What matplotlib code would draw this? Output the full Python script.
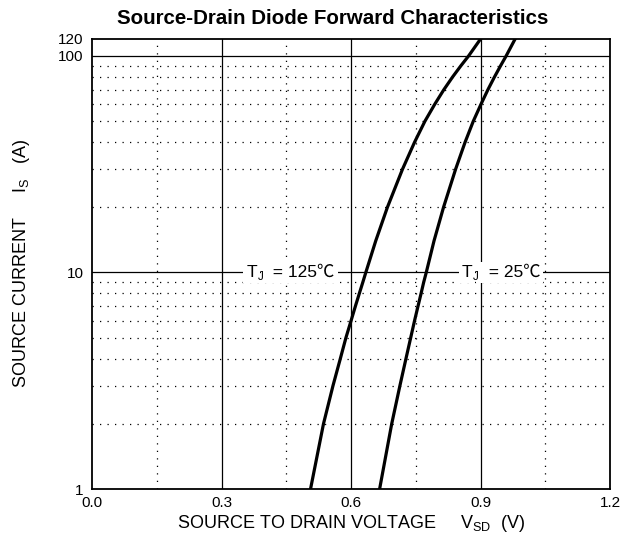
import matplotlib.pyplot as plt
from matplotlib.ticker import FixedLocator, NullFormatter

plt.rcParams['font.family'] = ['Liberation Sans', 'Noto Sans CJK SC', 'DejaVu Sans']

# Datos
i_s = [1, 2, 3, 4, 5, 6, 7, 8, 9, 10, 14, 20, 30, 40, 50, 60, 70, 80, 90, 100, 120]
v_125 = [0.506, 0.536, 0.558, 0.575, 0.588, 0.600, 0.610, 0.619, 0.627, 0.634,
         0.657, 0.684, 0.719, 0.747, 0.771, 0.794, 0.815, 0.835, 0.854, 0.872, 0.900]
v_25 = [0.666, 0.694, 0.713, 0.727, 0.738, 0.747, 0.755, 0.762, 0.768, 0.774,
        0.792, 0.814, 0.842, 0.864, 0.883, 0.901, 0.917, 0.932, 0.946, 0.959, 0.980]

x_ticks = [0.0, 0.3, 0.6, 0.9, 1.2]
x_minor = [0.15, 0.45, 0.75, 1.05]
y_ticks = [1, 10, 100, 120]
y_minor = [2, 3, 4, 5, 6, 7, 8, 9, 20, 30, 40, 50, 60, 70, 80, 90]

fig = plt.figure(figsize=(6.22, 5.47), dpi=100)
ax = fig.add_axes([0.148, 0.106, 0.833, 0.823])

ax.set_yscale('log')
ax.set_xlim(0, 1.2)
ax.set_ylim(1, 120)

# Rejilla
for x in x_ticks[1:-1]:
    ax.axvline(x, color='black', lw=0.9, zorder=1)
for x in x_minor:
    ax.axvline(x, color='black', lw=0.9, ls=(0, (1, 5)), zorder=1)
for y in [10, 100]:
    ax.axhline(y, color='black', lw=0.9, zorder=1)
for y in y_minor:
    ax.axhline(y, color='black', lw=0.9, ls=(0, (1, 5)), zorder=1)

# Curvas
ax.plot(v_125, i_s, color='black', lw=2.3, zorder=3)
ax.plot(v_25, i_s, color='black', lw=2.3, zorder=3)


def etiqueta(x, temp):
    box = dict(facecolor='white', edgecolor='none', pad=2)
    t = ax.text(x, 10, 'T', fontsize=12.5, ha='left', va='center', bbox=box, zorder=2)
    j = ax.annotate('J', xy=(1, 0), xycoords=t, xytext=(0.5, -2.5),
                    textcoords='offset points', fontsize=8.5, ha='left',
                    va='bottom', zorder=2.6)
    ax.annotate(f'  = {temp}℃', xy=(1, 0), xycoords=(j, t), fontsize=12.5,
                ha='left', va='bottom', bbox=box, zorder=2)


etiqueta(0.357, 125)
etiqueta(0.856, 25)

ax.xaxis.set_major_locator(FixedLocator(x_ticks))
ax.set_xticklabels(['0.0', '0.3', '0.6', '0.9', '1.2'])
ax.yaxis.set_major_locator(FixedLocator(y_ticks))
ax.yaxis.set_minor_locator(FixedLocator([]))
ax.yaxis.set_minor_formatter(NullFormatter())
ax.set_yticklabels(['1', '10', '100', '120'])
ax.tick_params(length=0, labelsize=11)
ax.tick_params(axis='x', pad=5)
ax.tick_params(axis='y', pad=6)

for s in ax.spines.values():
    s.set_linewidth(1.3)

fig.text(0.535, 0.967, 'Source-Drain Diode Forward Characteristics',
         fontsize=14.8, fontweight='bold', ha='center', va='center')
ax.set_xlabel('SOURCE TO DRAIN VOLTAGE     V$_\\mathregular{SD}$  (V)',
              fontsize=13, labelpad=2)
ax.set_ylabel('SOURCE CURRENT     I$_\\mathregular{S}$   (A)',
              fontsize=13, labelpad=19)

fig.savefig('out.png', dpi=100)
